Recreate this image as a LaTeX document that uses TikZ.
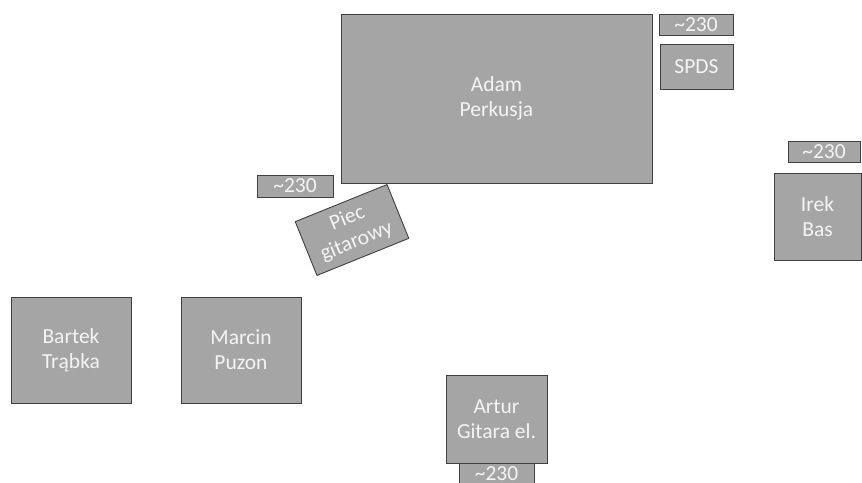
\documentclass[tikz,border=0pt]{standalone}
\usepackage{fontspec}
\setmainfont{Carlito}
\definecolor{boxfill}{HTML}{A5A5A5}
\definecolor{boxline}{HTML}{404040}
\definecolor{boxtext}{HTML}{F4F4F4}
\begin{document}
\begin{tikzpicture}[x=1pt,y=-1pt,
  box/.style={draw=boxline,fill=boxfill,line width=0.9pt,text=boxtext,inner sep=0pt,align=center,
    font=\fontsize{21.5}{25}\selectfont}]
\useasboundingbox (0,0) rectangle (862,482);
\begin{scope}
\clip (0,0) rectangle (862,482);
\node[box,minimum width=311pt,minimum height=169pt] (adam) at (496.5,98.5) {Adam\\Perkusja};
\node[box,minimum width=74pt,minimum height=21pt] (p1) at (696,24.5) {\textasciitilde230};
\node[box,minimum width=73pt,minimum height=45pt] (spds) at (696.5,66.5) {SPDS};
\node[box,minimum width=76pt,minimum height=22pt] (p2) at (295,186) {\textasciitilde230};
\node[box,minimum width=99pt,minimum height=58pt,rotate=22] (piec) at (352,230) {Piec\\gitarowy};
\node[box,minimum width=72pt,minimum height=21pt] (p3) at (824,151.5) {\textasciitilde230};
\node[box,minimum width=87pt,minimum height=87pt] (irek) at (817.5,216.5) {Irek\\Bas};
\node[box,minimum width=120pt,minimum height=106pt] (bartek) at (71,350) {Bartek\\Trąbka};
\node[box,minimum width=120pt,minimum height=106pt] (marcin) at (241,350) {Marcin\\Puzon};
\node[box,minimum width=101pt,minimum height=88pt] (artur) at (496.5,419) {Artur\\Gitara el.};
\node[box,minimum width=75pt,minimum height=22pt] (p4) at (496.5,474) {\textasciitilde230};
\end{scope}
\end{tikzpicture}
\end{document}
